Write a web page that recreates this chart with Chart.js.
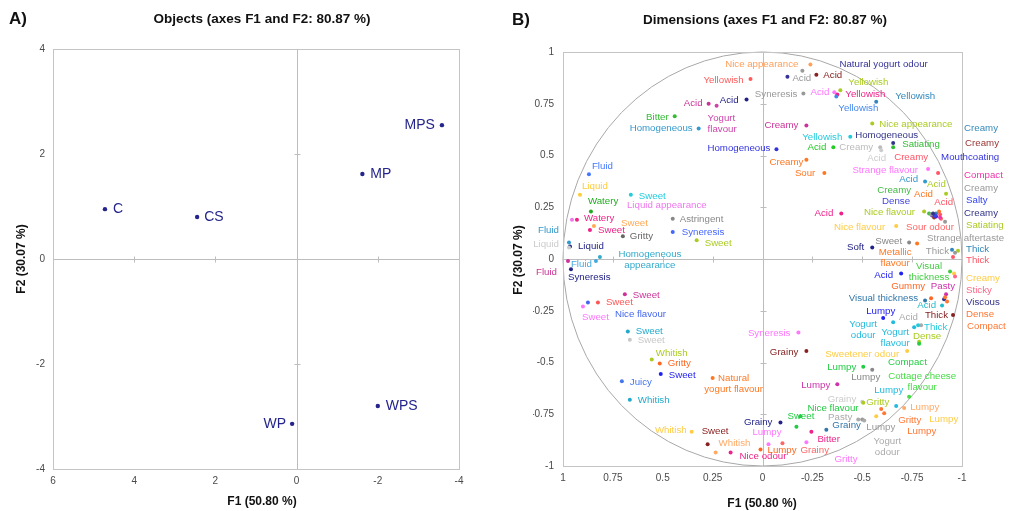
<!DOCTYPE html>
<html><head><meta charset="utf-8">
<script src="https://cdn.jsdelivr.net/npm/chart.js@4.4.0/dist/chart.umd.min.js"></script>
<style>
body{margin:0;background:#fff;width:1009px;height:511px;overflow:hidden;position:relative}
canvas{position:absolute;top:0}
#ca{left:0}#cb{left:500px}
</style></head>
<body>
<canvas id="ca" width="500" height="511"></canvas>
<canvas id="cb" width="509" height="511"></canvas>
<script>
// ---------- Panel A : objects ----------
const objNames = ['C','CS','MP','MPS','WPS','WP'];
const objF1 = [4.72, 2.45, -1.62, -3.58, -2.0, 0.11];
const objF2 = [0.95, 0.80, 1.62, 2.55, -2.80, -3.14];
const objPlace = [[8,0,'l'],[7,0,'l'],[8,0,'l'],[-7,0,'r'],[8,0,'l'],[-6,0,'r']];

// ---------- Panel B : dimensions ----------
const attrLabels = [
'Nice appearance','Yellowish','Acid','Yogurt\nflavour','Acid','Bitter','Homogeneous','Homogeneous','Fluid','Liquid',
'Watery','Sweet','Liquid appearance','Watery','Sweet','Sweet','Astringent','Gritty','Syneresis','Sweet',
'Liquid','Fluid','Liquid','Fluid','Fluid','Homogeneous\nappearance','Syneresis','Sweet','Sweet','Sweet',
'Nice flavour','Syneresis','Sweet','Sweet','Whitish','Gritty','Sweet','Juicy','Whitish','Natural\nyogurt flavour',
'Whitish','Sweet','Whitish','Nice odour','Grainy','Lumpy','Lumpy','Grainy','Sweet','Bitter',
'Grainy','Gritty','Nice flavour','Gummy','Pasty','Visual thickness','Acid','Thick','Lumpy','Acid',
'Yogurt\nodour','Yogurt\nflavour','Thick','Dense','Compact','Sweetener odour','Lumpy','Lumpy','Cottage cheese\nflavour','Lumpy',
'Lumpy','Grainy','Gritty','Lumpy','Lumpy','Gritty','Lumpy','Pasty','Lumpy','Yogurt\nodour',
'Creamy','Acid','Dense','Acid','Sour odour','Acid','Creamy','Creamy','Mouthcoating','Compact',
'Creamy','Salty','Creamy','Satiating','Strange aftertaste','Thick','Thick','Thick','Creamy','Sticky',
'Viscous','Dense','Compact','Visual\nthickness','Acid','Nice flavour','Nice flavour','Sweet','Metallic\nflavour','Soft',
'Acid','Natural yogurt odour','Acid','Acid','Syneresis','Acid','Yellowish','Yellowish','Yellowish','Yellowish',
'Nice appearance','Yellowish','Homogeneous','Satiating','Acid','Creamy','Acid','Creamy','Strange flavour','Acid',
'Creamy','Creamy','Sour','Grainy'
];
const attrF1 = [
-0.24, 0.06, 0.27, 0.23, 0.08, 0.44, 0.32, -0.07, 0.87, 0.915,
0.86, 0.66, 0.955, 0.93, 0.845, 0.865, 0.45, 0.70, 0.45, 0.33,
0.965, 0.97, 0.97, 0.975, 0.835, 0.815, 0.96, 0.69, 0.825, 0.90,
0.875, -0.18, 0.675, 0.665, 0.555, 0.515, 0.51, 0.705, 0.665, 0.25,
0.355, 0.275, 0.235, 0.16, -0.09, -0.03, 0.01, -0.10, -0.17, -0.245,
-0.32, -0.22, -0.19, -0.845, -0.92, -0.815, -0.90, -0.955, -0.605, -0.795,
-0.655, -0.76, -0.78, -0.785, -0.785, -0.725, -0.505, -0.55, -0.735, -0.375,
-0.67, -0.50, -0.505, -0.71, -0.57, -0.595, -0.61, -0.48, -0.50, -0.51,
-0.835, -0.885, -0.85, -0.89, -0.895, -0.92, -0.87, -0.86, -0.87, -0.89,
-0.845, -0.865, -0.855, -0.98, -0.915, -0.965, -0.95, -0.955, -0.96, -0.965,
-0.91, -0.915, -0.925, -0.94, -0.395, -0.81, -0.67, -0.735, -0.775, -0.55,
-0.695, -0.125, -0.20, -0.27, -0.205, -0.36, -0.39, -0.375, -0.37, -0.57,
-0.55, -0.44, -0.655, -0.655, -0.355, -0.59, -0.595, -0.88, -0.83, -0.815,
-0.22, -0.22, -0.31, -0.22
];
const attrF2 = [
0.94, 0.87, 0.75, 0.74, 0.77, 0.69, 0.63, 0.53, 0.41, 0.31,
0.23, 0.31, 0.19, 0.19, 0.16, 0.14, 0.195, 0.11, 0.13, 0.09,
0.06, 0.08, 0.055, -0.01, -0.01, 0.01, -0.05, -0.17, -0.21, -0.23,
-0.21, -0.355, -0.35, -0.39, -0.485, -0.505, -0.555, -0.59, -0.68, -0.575,
-0.835, -0.895, -0.935, -0.935, -0.79, -0.895, -0.92, -0.89, -0.81, -0.835,
-0.825, -0.885, -0.76, -0.19, -0.17, -0.20, -0.225, -0.27, -0.285, -0.32,
-0.305, -0.33, -0.32, -0.40, -0.41, -0.445, -0.52, -0.535, -0.665, -0.605,
-0.71, -0.69, -0.695, -0.72, -0.76, -0.725, -0.745, -0.775, -0.775, -0.78,
0.22, 0.23, 0.21, 0.215, 0.195, 0.315, 0.22, 0.20, 0.205, 0.20,
0.215, 0.21, 0.22, 0.04, 0.18, 0.03, 0.045, 0.01, -0.07, -0.085,
-0.195, -0.185, -0.205, -0.06, 0.22, 0.23, 0.16, 0.08, 0.075, 0.055,
-0.07, 0.88, 0.91, 0.89, 0.80, 0.805, 0.815, 0.795, 0.785, 0.76,
0.655, 0.59, 0.56, 0.54, 0.54, 0.54, 0.525, 0.415, 0.435, 0.375,
0.645, 0.48, 0.415, -0.445
];
const attrColors = [
'#ff9f5a','#ff5a5a','#cc3399','#cc44aa','#222288','#33bb33','#3399cc','#3333dd','#4477ff','#ffcc33',
'#22aa22','#22ccdd','#ee77ee','#ee2288','#ffaa55','#ee2288','#888888','#666666','#4466ff','#aacc22',
'#222288','#3399cc','#cccccc','#cc3399','#44aadd','#33aacc','#222288','#cc3399','#ff5555','#ff77ff',
'#4466ee','#ff77ff','#22aacc','#c8c8c8','#aacc22','#ff6622','#2222ee','#4477ee','#22aacc','#ff7722',
'#ffcc44','#882222','#ffaa66','#ee2288','#222288','#ff77ff','#ff6622','#ff6666','#22cc44','#ee2288',
'#3377aa','#ff77ff','#22cc44','#ff6622','#cc33aa','#3377aa','#22bbcc','#882222','#2222ee','#aaaaaa',
'#22bbdd','#22bbdd','#22ccdd','#aacc22','#22cc44','#ffcc44','#22cc44','#888888','#44dd44','#cc33aa',
'#22bbdd','#cccccc','#aacc22','#ffaa66','#ffcc44','#ff7733','#ff7733','#aaaaaa','#999999','#aaaaaa',
'#44bb44','#ff7722','#4444dd','#ff5566','#ff6666','#aacc22','#3388bb','#993333','#3333dd','#ee33aa',
'#999999','#3344ee','#333388','#aacc22','#999999','#999999','#3388bb','#ff5566','#ffcc44','#ff6688',
'#333388','#ff7733','#ff7733','#44cc44','#ee2288','#aacc22','#ffcc44','#888888','#ff7722','#222288',
'#2222ee','#333399','#999999','#882222','#999999','#ff77ff','#aacc22','#ee2288','#4488ee','#3388bb',
'#aacc22','#22ccdd','#333388','#33bb33','#22cc22','#bbbbbb','#cccccc','#ff5566','#ff77ff','#3399cc',
'#cc3399','#ff7722','#ff7722','#882222'
];
// label offsets in pixels from the point: [dx, dy, align]
const attrPlace = [
[-12,0,'r'],[-7,1,'r'],[-6,0,'r'],[-9,13,'l'],[-8,1,'r'],[-6,1,'r'],[-6,0,'r'],[-6,-1,'r'],[3,-8,'l'],[2,-9,'l'],
[-3,-10,'l'],[8,1,'l'],[55,-14,'l'],[7,-1,'l'],[27,-3,'l'],[8,0,'l'],[7,1,'l'],[7,0,'l'],[9,0,'l'],[8,3,'l'],
[8,0,'l'],[-10,-12,'r'],[-10,-3,'r'],[-11,11,'r'],[-4,3,'r'],[50,-3,'c'],[-3,8,'l'],[8,1,'l'],[8,0,'l'],[-1,11,'l'],
[27,12,'l'],[-8,1,'r'],[8,0,'l'],[8,1,'l'],[4,-6,'l'],[8,0,'l'],[8,1,'l'],[8,1,'l'],[8,1,'l'],[21,0,'c'],
[-5,-2,'r'],[-6,-13,'l'],[3,-9,'l'],[9,4,'l'],[-8,0,'r'],[-16,-12,'l'],[7,1,'l'],[18,7,'l'],[-9,-10,'l'],[6,7,'l'],
[6,-4,'l'],[28,17,'l'],[7,-8,'l'],[-6,-12,'r'],[9,-8,'r'],[-7,-2,'r'],[-6,0,'r'],[-5,0,'r'],[-17,-7,'l'],[-22,-8,'l'],
[-30,2,'c'],[-19,5,'c'],[6,2,'l'],[-6,-5,'l'],[-31,18,'l'],[-8,3,'r'],[-7,1,'r'],[-21,8,'l'],[13,-20,'c'],[-7,1,'r'],
[-22,-16,'l'],[-6,-3,'r'],[3,-1,'l'],[6,-1,'l'],[53,3,'l'],[17,11,'l'],[23,18,'l'],[-6,-2,'r'],[4,8,'l'],[23,21,'c'],
[-18,-23,'r'],[-25,-17,'l'],[-22,-14,'r'],[13,-12,'r'],[-35,9,'l'],[-19,-9,'l'],[28,-85,'l'],[31,-74,'l'],[5,-59,'l'],[24,-42,'l'],
[33,-26,'l'],[31,-15,'l'],[31,0,'l'],[8,-25,'l'],[-18,17,'l'],[-6,-1,'r'],[14,0,'l'],[13,3,'l'],[12,5,'l'],[11,14,'l'],
[22,3,'l'],[21,17,'l'],[20,25,'l'],[-21,-5,'c'],[-8,0,'r'],[-9,1,'r'],[-11,1,'r'],[-7,-1,'r'],[-22,9,'c'],[-8,0,'r'],
[-8,2,'r'],[52,-13,'l'],[-10,8,'l'],[7,1,'l'],[-6,1,'r'],[-5,0,'r'],[8,-8,'l'],[8,0,'l'],[2,12,'l'],[19,-5,'l'],
[7,1,'l'],[-8,0,'r'],[-38,-8,'l'],[9,-3,'l'],[-7,0,'r'],[-7,0,'r'],[-14,8,'l'],[-10,-16,'r'],[-10,1,'r'],[-7,-2,'r'],
[-8,0,'r'],[-3,3,'r'],[-9,0,'r'],[-8,1,'r']
];

const FONT = "'Liberation Sans', Arial, Helvetica, sans-serif";
Chart.defaults.font.family = FONT;

function fixFit(w, h) {
  return s => {
    if (w != null) s.width = w;
    if (h != null) s.height = h;
    s.paddingLeft = 0; s.paddingRight = 0; s.paddingTop = 0; s.paddingBottom = 0;
  };
}
function axis(min, max, step, reverse, pad, fit) {
  return {
    type: 'linear', min, max, reverse,
    grid: {display: false, drawTicks: false}, border: {display: false},
    ticks: {stepSize: step, autoSkip: false, maxRotation: 0, minRotation: 0, padding: pad,
      color: '#4a4a4a', font: {size: 10, family: FONT},
      callback: v => String(+(+v).toFixed(2))},
    afterFit: fit
  };
}

function makePlugin(o) {
  return {
    id: 'deco',
    beforeDatasetsDraw(chart) {
      const {ctx, chartArea: a, scales: {x, y}} = chart;
      ctx.save();
      ctx.lineWidth = 1;
      const X0 = Math.round(x.getPixelForValue(0)) + 0.5;
      const Y0 = Math.round(y.getPixelForValue(0)) + 0.5;
      ctx.strokeStyle = o.zeroColor;
      ctx.beginPath();
      ctx.moveTo(X0, a.top); ctx.lineTo(X0, a.bottom);
      ctx.moveTo(a.left, Y0); ctx.lineTo(a.right, Y0);
      o.xMarks.forEach(v => { const p = Math.round(x.getPixelForValue(v)) + 0.5; ctx.moveTo(p, Y0 - 3); ctx.lineTo(p, Y0 + 3); });
      o.yMarks.forEach(v => { const p = Math.round(y.getPixelForValue(v)) + 0.5; ctx.moveTo(X0 - 3, p); ctx.lineTo(X0 + 3, p); });
      ctx.stroke();
      if (o.circle) {
        ctx.strokeStyle = '#a8a8a8';
        ctx.beginPath();
        const cx = x.getPixelForValue(0), cy = y.getPixelForValue(0);
        ctx.ellipse(cx, cy, Math.abs(x.getPixelForValue(1) - cx), Math.abs(y.getPixelForValue(1) - cy), 0, 0, Math.PI * 2);
        ctx.stroke();
      }
      ctx.strokeStyle = '#c4c4c4';
      ctx.strokeRect(Math.round(a.left) + 0.5, Math.round(a.top) + 0.5, Math.round(a.right - a.left), Math.round(a.bottom - a.top));
      ctx.restore();
    },
    afterDatasetsDraw(chart) {
      const {ctx} = chart;
      const meta = chart.getDatasetMeta(0);
      ctx.save();
      ctx.font = o.labelFont;
      ctx.textBaseline = 'middle';
      meta.data.forEach((pt, i) => {
        const [dx, dy, al] = o.place[i];
        ctx.fillStyle = o.colors[i];
        ctx.textAlign = al === 'l' ? 'left' : (al === 'r' ? 'right' : 'center');
        o.labels[i].split('\n').forEach((line, k) => ctx.fillText(line, pt.x + dx, pt.y + dy + k * 11));
      });
      ctx.restore();
    },
    afterDraw(chart) {
      const {ctx} = chart;
      ctx.save();
      ctx.fillStyle = '#111';
      ctx.textBaseline = 'middle';
      o.texts.forEach(t => {
        ctx.font = t.font;
        ctx.textAlign = t.align || 'center';
        if (t.rot) {
          ctx.save(); ctx.translate(t.x, t.y); ctx.rotate(-Math.PI / 2);
          ctx.fillText(t.t, 0, 0); ctx.restore();
        } else ctx.fillText(t.t, t.x, t.y);
      });
      ctx.restore();
    }
  };
}

// ---------- Chart A ----------
const colA = '#24248c';
new Chart(document.getElementById('ca'), {
  type: 'scatter',
  data: {datasets: [{
    data: objF1.map((v, i) => ({x: v, y: objF2[i]})),
    pointRadius: 2.2, pointBorderWidth: 0, pointBackgroundColor: colA, showLine: false
  }]},
  options: {
    responsive: false, animation: false, devicePixelRatio: 1,
    layout: {padding: {left: 23, right: 41, top: 49, bottom: 22}},
    plugins: {legend: {display: false}, tooltip: {enabled: false}},
    scales: {
      x: axis(-4, 6, 2, true, 6, fixFit(null, 20)),
      y: axis(-4, 4, 2, false, 8, fixFit(30, null))
    }
  },
  plugins: [makePlugin({
    zeroColor: '#bdbdbd', xMarks: [4, 2, -2], yMarks: [2, -2], circle: false,
    labelFont: '14px ' + FONT, place: objPlace, labels: objNames, colors: objNames.map(() => colA),
    texts: [
      {t: 'A)', x: 9, y: 19, font: 'bold 17px ' + FONT, align: 'left'},
      {t: 'Objects (axes F1 and F2: 80.87 %)', x: 262, y: 19, font: 'bold 13.5px ' + FONT},
      {t: 'F1 (50.80 %)', x: 262, y: 502, font: 'bold 12px ' + FONT},
      {t: 'F2 (30.07 %)', x: 22, y: 259, font: 'bold 12px ' + FONT, rot: true}
    ]
  })]
});

// ---------- Chart B ----------
new Chart(document.getElementById('cb'), {
  type: 'scatter',
  data: {datasets: [{
    data: attrF1.map((v, i) => ({x: v, y: attrF2[i]})),
    pointRadius: 2, pointBorderWidth: 0, pointBackgroundColor: attrColors, showLine: false
  }]},
  options: {
    responsive: false, animation: false, devicePixelRatio: 1,
    layout: {padding: {left: 33, right: 47, top: 52, bottom: 25}},
    plugins: {legend: {display: false}, tooltip: {enabled: false}},
    scales: {
      x: axis(-1, 1, 0.25, true, 6, fixFit(null, 20)),
      y: axis(-1, 1, 0.25, false, 9, fixFit(30, null))
    }
  },
  plugins: [makePlugin({
    zeroColor: '#bdbdbd', xMarks: [0.75, 0.5, 0.25, -0.25, -0.5, -0.75], yMarks: [0.75, 0.5, 0.25, -0.25, -0.5, -0.75], circle: true,
    labelFont: '9.7px ' + FONT, place: attrPlace, labels: attrLabels, colors: attrColors,
    texts: [
      {t: 'B)', x: 12, y: 20, font: 'bold 17px ' + FONT, align: 'left'},
      {t: 'Dimensions (axes F1 and F2: 80.87 %)', x: 265, y: 20, font: 'bold 13.5px ' + FONT},
      {t: 'F1 (50.80 %)', x: 262, y: 504, font: 'bold 12px ' + FONT},
      {t: 'F2 (30.07 %)', x: 19, y: 260, font: 'bold 12px ' + FONT, rot: true}
    ]
  })]
});
</script>
</body></html>
